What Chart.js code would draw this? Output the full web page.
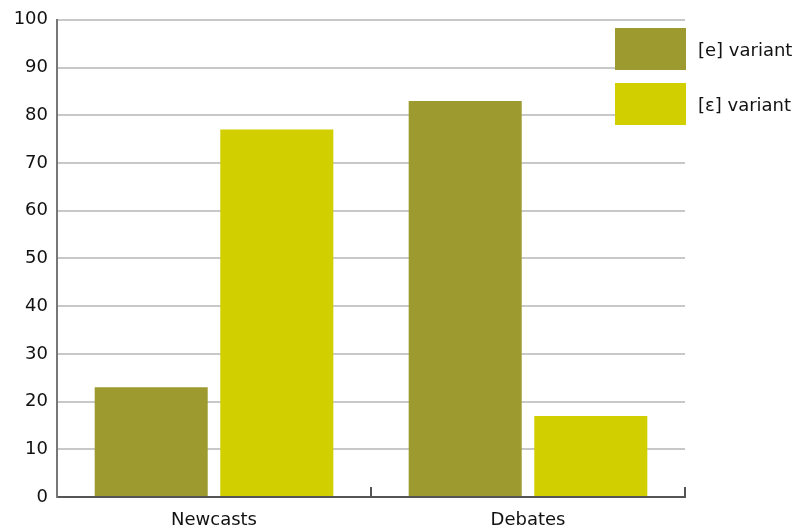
<!DOCTYPE html>
<html>
<head>
<meta charset="utf-8">
<script src="https://cdn.jsdelivr.net/npm/chart.js@4/dist/chart.umd.min.js"></script>
<style>
  html, body { margin: 0; padding: 0; background: #fff; }
  #wrap { position: relative; width: 805px; height: 529px; }
  #legend { position: absolute; left: 615px; top: 28px; font-family: "DejaVu Sans", Verdana, sans-serif; font-size: 18px; color: #111; }
  .item { display: flex; align-items: center; height: 42px; margin-bottom: 13px; }
  .swatch { width: 71px; height: 42px; margin-right: 12px; }
</style>
</head>
<body>
<div id="wrap">
  <canvas id="chart" width="805" height="529"></canvas>
  <div id="legend"></div>
</div>
<script>
// Categories and series
const categories = ['Newcasts', 'Debates'];
const eVariant = [23, 83];
const epsVariant = [77, 17];
const seriesLabels = ['[e] variant', '[\u025B] variant'];
const seriesColors = ['#9d9b30', '#d1cf00'];

const tickFont = { family: 'DejaVu Sans', size: 18 };

// inward ticks at category boundaries on the x axis
const boundaryTicks = {
    id: 'boundaryTicks',
    afterDraw(chart) {
        const x = chart.scales.x;
        const ctx = chart.ctx;
        const bottom = chart.chartArea.bottom;
        const step = x.getPixelForValue(1) - x.getPixelForValue(0);
        ctx.save();
        ctx.strokeStyle = '#555';
        ctx.lineWidth = 2;
        categories.forEach((c, i) => {
            const px = Math.round(x.getPixelForValue(i) + step / 2);
            ctx.beginPath();
            ctx.moveTo(px, bottom);
            ctx.lineTo(px, bottom - 10);
            ctx.stroke();
        });
        ctx.restore();
    }
};

const ctx = document.getElementById('chart').getContext('2d');
const chart = new Chart(ctx, {
    type: 'bar',
    data: {
        labels: categories,
        datasets: [{
            label: seriesLabels[0],
            data: eVariant,
            backgroundColor: seriesColors[0]
        }, {
            label: seriesLabels[1],
            data: epsVariant,
            backgroundColor: seriesColors[1]
        }]
    },
    options: {
        responsive: false,
        animation: false,
        layout: { padding: { top: 11, right: 120, left: 0, bottom: 0 } },
        datasets: {
            bar: { categoryPercentage: 0.8, barPercentage: 0.9 }
        },
        plugins: {
            legend: { display: false },
            tooltip: { enabled: false }
        },
        scales: {
            x: {
                grid: { display: false },
                border: { color: '#555', width: 2 },
                ticks: {
                    color: '#111',
                    font: tickFont,
                    padding: 5
                },
                afterFit(scale) { scale.height = 32; }
            },
            y: {
                min: 0,
                max: 100,
                ticks: {
                    stepSize: 10,
                    color: '#111',
                    font: tickFont,
                    padding: 9
                },
                grid: { color: '#c8c8c8', lineWidth: 2, drawTicks: false },
                border: { color: '#777', width: 2 },
                afterFit(scale) { scale.width = 57; }
            }
        }
    },
    plugins: [boundaryTicks]
});

// HTML legend from the dataset labels and colours
const legend = document.getElementById('legend');
seriesLabels.forEach((lbl, i) => {
    const item = document.createElement('div');
    item.className = 'item';
    const sw = document.createElement('div');
    sw.className = 'swatch';
    sw.style.background = seriesColors[i];
    const tx = document.createElement('span');
    tx.textContent = lbl;
    item.appendChild(sw);
    item.appendChild(tx);
    legend.appendChild(item);
});
</script>
</body>
</html>
